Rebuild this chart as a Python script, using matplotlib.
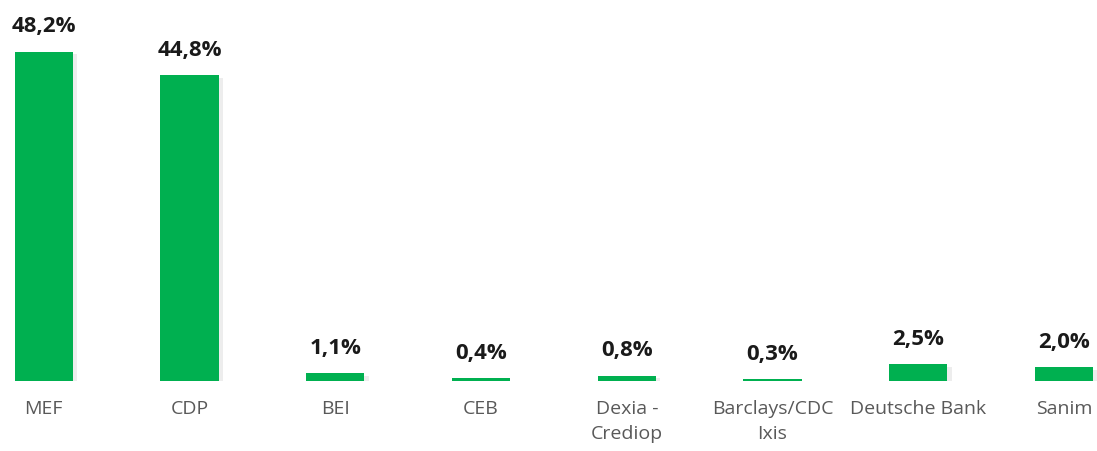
import numpy as np
import matplotlib.pyplot as plt
import matplotlib.patheffects as pe

categories = ['MEF', 'CDP', 'BEI', 'CEB', 'Dexia -\nCrediop', 'Barclays/CDC\nIxis', 'Deutsche Bank', 'Sanim']
values = [48.2, 44.8, 1.1, 0.4, 0.8, 0.3, 2.5, 2.0]
value_labels = ['48,2%', '44,8%', '1,1%', '0,4%', '0,8%', '0,3%', '2,5%', '2,0%']

plt.rcParams['font.family'] = ['Open Sans', 'DejaVu Sans']

fig = plt.figure(figsize=(10.97, 4.52), dpi=100)
ax = fig.add_axes([0, 70 / 452, 1, 382 / 452])

x = np.arange(len(categories))
bars = ax.bar(x, values, width=0.40, color='#00B050', zorder=2)
for b in bars:
    b.set_path_effects([pe.SimplePatchShadow(offset=(3, -2), shadow_rgbFace='black', alpha=0.07), pe.Normal()])

for xi, v, lab in zip(x, values, value_labels):
    ax.annotate(lab, (xi, v), xytext=(0, 11), textcoords='offset points',
                ha='center', va='bottom', fontsize=16, fontweight='bold', color='#1a1a1a')

ax.set_xlim(-0.30, 7.226)
ax.set_ylim(0, 55.9)
ax.set_xticks(x)
ax.set_xticklabels(categories, fontsize=14, color='#595959', linespacing=1.5)
ax.tick_params(axis='x', length=0, pad=13)
ax.set_yticks([])
for s in ax.spines.values():
    s.set_visible(False)

fig.savefig('out.png', dpi=100)
